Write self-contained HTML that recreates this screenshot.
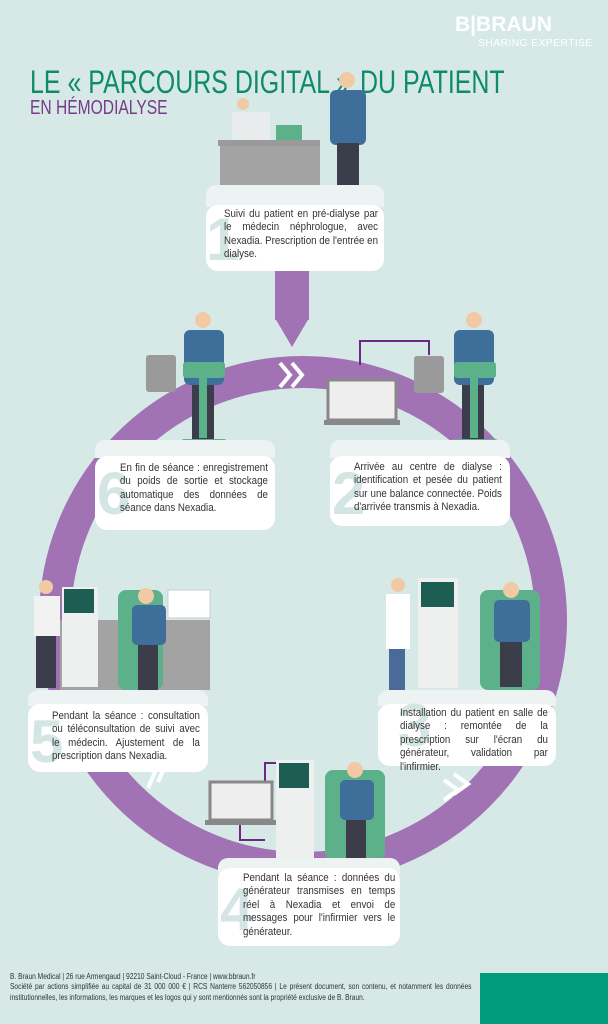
<!DOCTYPE html>
<html><head><meta charset="utf-8"><style>
*{margin:0;padding:0;box-sizing:border-box}
body{width:608px;height:1024px;background:#d6e9e6;position:relative;overflow:hidden;font-family:"Liberation Sans",sans-serif}
.abs{position:absolute}
.box{position:absolute;background:#fff;border-radius:12px;font-size:11.2px;line-height:13.4px;color:#333;text-align:justify}
.plat{position:absolute;background:#edf3f2;border-radius:10px 10px 0 0}
.num{position:absolute;font-size:60px;color:#d4e6e3;font-weight:bold;line-height:60px}
.txt{position:absolute;transform:scaleX(0.87);transform-origin:0 0}
</style></head><body>
<div class="abs" style="left:455px;top:13px;color:#fff;font-size:21px;font-weight:bold">B|BRAUN</div>
<div class="abs" style="left:478px;top:37px;color:#fff;font-size:10.5px;letter-spacing:0.3px">SHARING EXPERTISE</div>
<div class="abs" style="left:30px;top:64px;color:#0f8a6e;font-size:32px;white-space:nowrap;transform:scaleX(0.78);transform-origin:0 0">LE « PARCOURS DIGITAL »</div>
<div class="abs" style="left:360px;top:64px;color:#0f8a6e;font-size:32px;white-space:nowrap;transform:scaleX(0.78);transform-origin:0 0">DU PATIENT</div>
<div class="abs" style="left:30px;top:97px;color:#7a3a8a;font-size:20px;white-space:nowrap;transform:scaleX(0.78);transform-origin:0 0">EN HÉMODIALYSE</div>

<svg class="abs" style="left:0;top:0" width="608" height="1024">
<circle cx="303" cy="620" r="248" fill="none" stroke="#a273b4" stroke-width="32"/>
<rect x="275" y="270" width="34" height="50" fill="#a273b4"/>
<polygon points="275,318 309,318 292,347" fill="#a273b4"/>
<g fill="none" stroke="#fff" stroke-width="4">
<polyline points="280,363 290,375 280,387"/><polyline points="292,363 302,375 292,387"/>
<polyline points="140,762 155,772 148,788"/><polyline points="150,756 165,766 158,782"/>
<polyline points="444,780 458,790 444,800"/><polyline points="454,774 468,784 454,794"/>
</g>
<rect x="218" y="140" width="102" height="6" fill="#9a9a9a"/><rect x="220" y="146" width="100" height="40" fill="#a3a3a3"/>
<rect x="232" y="112" width="38" height="28" fill="#e8ecec"/><circle cx="243" cy="104" r="6" fill="#f1c9a5"/>
<rect x="276" y="125" width="26" height="15" fill="#5cb08a"/>
<circle cx="347" cy="80" r="8" fill="#f1c9a5"/><rect x="330" y="90" width="36" height="55" rx="6" fill="#3d6f9a"/>
<rect x="337" y="143" width="22" height="55" fill="#3b3e4a"/>
<rect x="146" y="355" width="30" height="37" rx="3" fill="#9a9a9a"/>
<circle cx="203" cy="320" r="8" fill="#f1c9a5"/><rect x="184" y="330" width="40" height="55" rx="6" fill="#3d6f9a"/>
<rect x="192" y="385" width="22" height="55" fill="#3b3e4a"/>
<rect x="183" y="362" width="42" height="16" rx="3" fill="#5cb08a"/><rect x="199" y="378" width="8" height="60" fill="#5cb08a"/>
<rect x="181" y="439" width="46" height="8" rx="3" fill="#5cb08a"/>
<polyline points="360,365 360,341 429,341 429,355" fill="none" stroke="#6a2a80" stroke-width="2"/>
<rect x="328" y="380" width="68" height="40" fill="#eee" stroke="#888" stroke-width="3"/><rect x="324" y="420" width="76" height="5" fill="#888"/>
<rect x="414" y="356" width="30" height="37" rx="3" fill="#9a9a9a"/>
<circle cx="474" cy="320" r="8" fill="#f1c9a5"/><rect x="454" y="330" width="40" height="55" rx="6" fill="#3d6f9a"/>
<rect x="462" y="385" width="22" height="55" fill="#3b3e4a"/>
<rect x="454" y="362" width="42" height="16" rx="3" fill="#5cb08a"/><rect x="470" y="378" width="8" height="60" fill="#5cb08a"/>
<rect x="452" y="439" width="46" height="8" rx="3" fill="#5cb08a"/>
<rect x="60" y="620" width="150" height="70" fill="#a3a3a3"/>
<circle cx="46" cy="587" r="7" fill="#f1c9a5"/><rect x="34" y="596" width="26" height="40" fill="#f2f2f2"/><rect x="36" y="636" width="20" height="52" fill="#3b3e4a"/>
<rect x="62" y="587" width="36" height="100" fill="#eef0f0"/><rect x="64" y="589" width="30" height="24" fill="#1d5d52"/>
<rect x="118" y="590" width="45" height="100" rx="8" fill="#5cb08a"/><circle cx="146" cy="596" r="8" fill="#f1c9a5"/>
<rect x="132" y="605" width="34" height="40" rx="5" fill="#3d6f9a"/><rect x="138" y="645" width="20" height="45" fill="#3b3e4a"/>
<rect x="168" y="590" width="42" height="28" fill="#fff" stroke="#ccc"/>
<circle cx="398" cy="585" r="7" fill="#f1c9a5"/><rect x="386" y="594" width="24" height="55" fill="#fff"/><rect x="389" y="649" width="16" height="42" fill="#4a6a9a"/>
<rect x="418" y="578" width="40" height="110" fill="#eef0f0"/><rect x="421" y="582" width="33" height="25" fill="#1d5d52"/>
<rect x="480" y="590" width="60" height="100" rx="8" fill="#5cb08a"/><circle cx="511" cy="590" r="8" fill="#f1c9a5"/>
<rect x="494" y="600" width="36" height="42" rx="5" fill="#3d6f9a"/><rect x="500" y="642" width="22" height="45" fill="#3b3e4a"/>
<polyline points="265,785 265,763 293,763 293,775" fill="none" stroke="#6a2a80" stroke-width="2"/>
<polyline points="240,825 240,840 265,840" fill="none" stroke="#6a2a80" stroke-width="2"/>
<rect x="210" y="782" width="62" height="38" fill="#eee" stroke="#888" stroke-width="3"/><rect x="205" y="820" width="72" height="5" fill="#888"/>
<rect x="276" y="760" width="38" height="100" fill="#eef0f0"/><rect x="279" y="763" width="30" height="25" fill="#1d5d52"/>
<rect x="325" y="770" width="60" height="90" rx="8" fill="#5cb08a"/><circle cx="355" cy="770" r="8" fill="#f1c9a5"/>
<rect x="340" y="780" width="34" height="40" rx="5" fill="#3d6f9a"/><rect x="346" y="820" width="20" height="40" fill="#3b3e4a"/>
<rect x="480" y="973" width="128" height="51" fill="#009a7c"/>
</svg>

<div class="plat" style="left:206px;top:185px;width:178px;height:22px"></div>
<div class="box" style="left:206px;top:205px;width:178px;height:66px"><span class="num" style="left:0;top:5px">1</span><div class="txt" style="left:18px;top:3px;width:177px">Suivi du patient en pré-dialyse par le médecin néphrologue, avec Nexadia. Prescription de l'entrée en dialyse.</div></div>

<div class="plat" style="left:95px;top:440px;width:180px;height:18px"></div>
<div class="box" style="left:95px;top:456px;width:180px;height:74px"><span class="num" style="left:2px;top:8px">6</span><div class="txt" style="left:25px;top:6px;width:170px">En fin de séance : enregistrement du poids de sortie et stockage automatique des données de séance dans Nexadia.</div></div>

<div class="plat" style="left:330px;top:440px;width:180px;height:18px"></div>
<div class="box" style="left:330px;top:456px;width:180px;height:70px"><span class="num" style="left:2px;top:8px">2</span><div class="txt" style="left:24px;top:5px;width:170px">Arrivée au centre de dialyse : identification et pesée du patient sur une balance connectée. Poids d'arrivée transmis à Nexadia.</div></div>

<div class="plat" style="left:28px;top:690px;width:180px;height:16px"></div>
<div class="box" style="left:28px;top:704px;width:180px;height:68px"><span class="num" style="left:2px;top:8px">5</span><div class="txt" style="left:24px;top:6px;width:170px">Pendant la séance : consultation ou téléconsultation de suivi avec le médecin. Ajustement de la prescription dans Nexadia.</div></div>

<div class="plat" style="left:378px;top:690px;width:178px;height:16px"></div>
<div class="box" style="left:378px;top:704px;width:178px;height:62px"><span class="num" style="left:20px;top:-8px">3</span><div class="txt" style="left:22px;top:3px;width:170px">Installation du patient en salle de dialyse : remontée de la prescription sur l'écran du générateur, validation par l'infirmier.</div></div>

<div class="plat" style="left:218px;top:858px;width:182px;height:16px"></div>
<div class="box" style="left:218px;top:868px;width:182px;height:78px"><span class="num" style="left:2px;top:12px">4</span><div class="txt" style="left:25px;top:4px;width:175px">Pendant la séance : données du générateur transmises en temps réel à Nexadia et envoi de messages pour l'infirmier vers le générateur.</div></div>

<div class="abs" style="left:10px;top:972px;width:556px;font-size:8px;line-height:10.4px;color:#333;text-align:justify;transform:scaleX(0.83);transform-origin:0 0">B. Braun Medical | 26 rue Armengaud | 92210 Saint-Cloud - France | www.bbraun.fr<br>Société par actions simplifiée au capital de 31 000 000 € | RCS Nanterre 562050856 | Le présent document, son contenu, et notamment les données institutionnelles, les informations, les marques et les logos qui y sont mentionnés sont la propriété exclusive de B. Braun.</div>
</body></html>
